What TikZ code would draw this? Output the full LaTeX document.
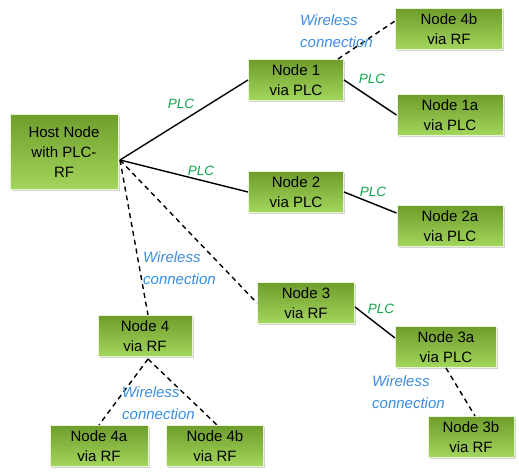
\documentclass[tikz,border=0pt]{standalone}
\usepackage{fontspec}
\setmainfont{Liberation Sans}
\usetikzlibrary{shadows,calc}
\definecolor{gtop}{HTML}{6F9D2C}
\definecolor{gbot}{HTML}{A3D65C}
\definecolor{wblue}{HTML}{3A8EE0}
\definecolor{pgreen}{HTML}{10A84A}
\tikzset{
  box/.style={rectangle, top color=gtop, bottom color=gbot, draw=white!75!gbot, line width=1pt,
    drop shadow={shadow xshift=1.5pt, shadow yshift=-1.5pt, opacity=0.35},
    minimum width=95pt, minimum height=41pt, inner sep=1pt, align=center,
    font=\fontsize{15}{20}\selectfont},
  wire/.style={line width=1.4pt, black},
  wless/.style={line width=1.4pt, black, dash pattern=on 5pt off 4pt},
  plc/.style={text=pgreen, font=\fontsize{13.5}{16}\selectfont\itshape},
  wlab/.style={text=wblue, font=\fontsize{15}{22}\selectfont\itshape, align=left, anchor=west, inner sep=0pt}
}
\begin{document}
\begin{tikzpicture}[x=1pt,y=-1pt]
\fill[white] (0,0) rectangle (519,473);
\useasboundingbox (0,0) rectangle (519,473);
\node[box, minimum width=108pt, minimum height=75pt] (host) at (64,152) {Host Node\\with PLC-\\RF};
\node[box] (n1) at (296,80) {Node 1\\via PLC};
\node[box, minimum width=107pt] (n4b) at (449,29) {Node 4b\\via RF};
\node[box, minimum width=106pt] (n1a) at (450,115) {Node 1a\\via PLC};
\node[box] (n2) at (296,192) {Node 2\\via PLC};
\node[box, minimum width=106pt] (n2a) at (450,226) {Node 2a\\via PLC};
\node[box, minimum width=97pt] (n3) at (306,303) {Node 3\\via RF};
\node[box, minimum width=101pt] (n3a) at (446,347) {Node 3a\\via PLC};
\node[box, minimum width=86pt] (n3b) at (471,437) {Node 3b\\via RF};
\node[box, minimum width=94pt] (n4) at (145,336) {Node 4\\via RF};
\node[box, minimum width=98pt] (n4a) at (99,446) {Node 4a\\via RF};
\node[box, minimum width=97pt] (n4bb) at (215,446) {Node 4b\\via RF};
\coordinate (hp) at (120,160);
\draw[wire] (hp) -- (n1.west);
\draw[wire] (hp) -- (n2.west);
\draw[wless] (hp) -- (n3.west);
\draw[wless] (hp) -- ($(n4.north)+(3,0)$);
\draw[wless] ($(n1.north east)+(-6,0)$) -- ($(n4b.west)+(0,-8)$);
\draw[wire] (n1.east) -- (n1a.west);
\draw[wire] (n2.east) -- ($(n2a.west)+(0,-13)$);
\draw[wire] ($(n3.east)+(0,4)$) -- ($(n3a.west)+(0,-9)$);
\draw[wless] (n3a.south) -- ($(n3b.north)+(4,0)$);
\draw[wless] ($(n4.south)+(3,2)$) -- (n4a.north);
\draw[wless] ($(n4.south)+(3,2)$) -- ($(n4bb.north)+(2,0)$);
\node[plc] (l1) at (181,104) {PLC};
\node[plc] (l2) at (201,171) {PLC};
\node[plc] (l3) at (372,79) {PLC};
\node[plc] (l4) at (373,192) {PLC};
\node[plc] (l5) at (381,309) {PLC};
\node[wlab] (w1) at (300,31) {Wireless\\connection};
\node[wlab] (w2) at (143,268) {Wireless\\connection};
\node[wlab] (w3) at (122,403) {Wireless\\connection};
\node[wlab] (w4) at (372,392) {Wireless\\connection};
\end{tikzpicture}
\end{document}
